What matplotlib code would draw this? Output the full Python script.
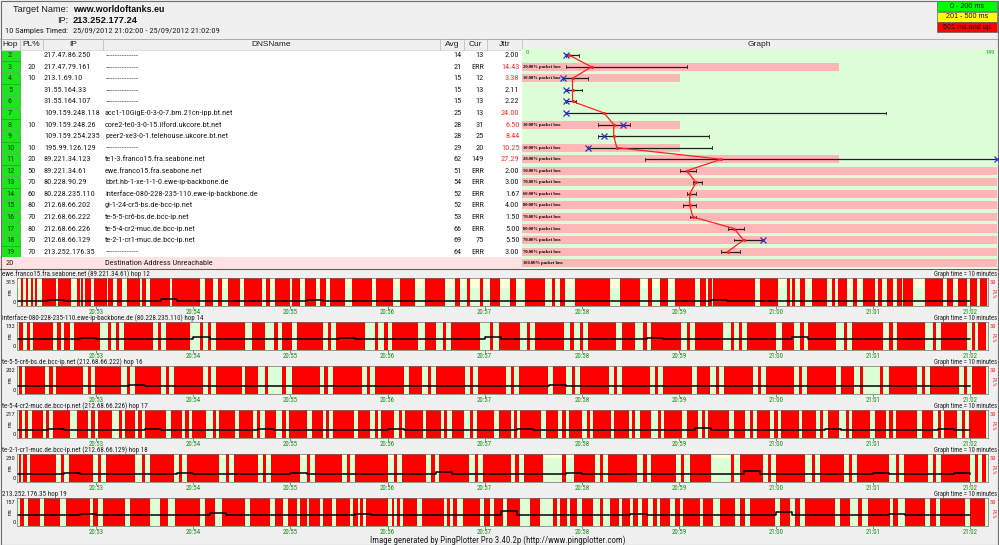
import matplotlib
matplotlib.use("Agg")
import matplotlib.pyplot as plt
from matplotlib import font_manager

W, H = 999, 545

# ---------------- data ----------------
target_name = "www.worldoftanks.eu"
target_ip = "213.252.177.24"
samples_text = "10 Samples Timed:"
time_span = "25/09/2012 21:02:00 - 25/09/2012 21:02:09"

columns = ["Hop", "PL%", "IP", "DNSName", "Avg", "Cur", "Jttr", "Graph"]
hops = list(range(2, 21))
pl = [0, 20, 10, 0, 0, 0, 10, 0, 10, 20, 50, 70, 60, 80, 70, 80, 70, 70, 100]
ips = ["217.47.86.250", "217.47.79.161", "213.1.69.10", "31.55.164.33", "31.55.164.107",
       "109.159.248.118", "109.159.248.26", "109.159.254.235", "195.99.126.129",
       "89.221.34.123", "89.221.34.61", "80.228.90.29", "80.228.235.110",
       "212.68.66.202", "212.68.66.222", "212.68.66.226", "212.68.66.129",
       "213.252.176.35", ""]
dns = ["--------------", "--------------", "--------------", "--------------", "--------------",
       "acc1-10GigE-0-3-0-7.bm.21cn-ipp.bt.net", "core2-te0-3-0-15.ilford.ukcore.bt.net",
       "peer2-xe3-0-1.telehouse.ukcore.bt.net", "--------------",
       "te1-3.franco15.fra.seabone.net", "ewe.franco15.fra.seabone.net",
       "bbrt.hb-1-xe-1-1-0.ewe-ip-backbone.de", "interface-080-228-235-110.ewe-ip-backbone.de",
       "gi-1-24-cr5-bs.de-bcc-ip.net", "te-5-5-cr6-bs.de.bcc-ip.net",
       "te-5-4-cr2-muc.de.bcc-ip.net", "te-2-1-cr1-muc.de.bcc-ip.net",
       "--------------", "Destination Address Unreachable"]
avg = [14, 21, 15, 15, 15, 25, 28, 28, 29, 62, 51, 54, 52, 52, 53, 66, 69, 64, None]
cur = [13, None, 12, 13, 13, 13, 31, 25, 20, 149, None, None, None, None, None, None, 75, None, None]
jitter = [2.00, 14.43, 3.38, 2.11, 2.22, 24.00, 6.50, 8.44, 10.25, 27.29,
          2.00, 3.00, 1.67, 4.00, 1.50, 5.00, 5.50, 3.00, None]
lat_min = [13, 13, 12, 13, 13, 13, 23, 23, 20, 38, 49, 53, 51, 50, 52, 64, 66, 62, None]
lat_max = [17, 51, 20, 18, 16, 114, 33, 58, 59, 149, 54, 56, 54, 54, 54, 69, 75, 68, None]
graph_max = 149
loss_scale = 30

legend_labels = ["0 - 200 ms", "201 - 500 ms", "501 ms and up"]
legend_colors = ["#00ff00", "#ffff00", "#ff0000"]

strip_titles = ["ewe.franco15.fra.seabone.net (89.221.34.61) hop 12",
                "interface-080-228-235-110.ewe-ip-backbone.de (80.228.235.110) hop 14",
                "te-5-5-cr6-bs.de.bcc-ip.net (212.68.66.222) hop 16",
                "te-5-4-cr2-muc.de.bcc-ip.net (212.68.66.226) hop 17",
                "te-2-1-cr1-muc.de.bcc-ip.net (212.68.66.129) hop 18",
                "213.252.176.35 hop 19"]
strip_ymax = [315, 132, 202, 217, 230, 157]
tick_labels = ["20:53", "20:54", "20:55", "20:56", "20:57", "20:58", "20:59", "21:00", "21:01", "21:02"]
tick_secs = [60, 120, 180, 240, 300, 360, 420, 480, 540, 600]   # seconds after 20:52:00
t_start, t_end = 11, 611

# packet-loss intervals (seconds after 20:52:00)
loss_hop12 = [(13.5, 14.7), (16.6, 17.8), (19.7, 20.9), (22.1, 23.4), (26.5, 35.1), (36.3, 44.4),
              (48.1, 50), (50.6, 51.8), (53, 56.7), (58.6, 66.6), (67.2, 70.3), (72.8, 75.9),
              (79, 87), (88.3, 90.7), (93.2, 105.6), (106.8, 124.1), (127.2, 132.1), (135.2, 137.7),
              (141.4, 148.8), (151.3, 162.4), (164.9, 167.4), (170.5, 179.7), (181, 185.9),
              (189, 195.8), (198.3, 202), (204.4, 213.7), (218, 230.4), (232.9, 243.4),
              (247.7, 257), (263.2, 275.5), (281.7, 284.8), (289.1, 291), (297.1, 299),
              (303.3, 309.5), (315.7, 319.4), (325, 337.3), (341.6, 343.5), (346.6, 349.7),
              (355.9, 377.5), (383.7, 396), (401, 403.4), (408.4, 413.3), (417.7, 430),
              (433.1, 436.8), (438, 440.5), (441.1, 467.1), (470.2, 481.3), (486.9, 488.7),
              (490, 491.8), (494.9, 498), (502.3, 511.6), (514.7, 516.5), (518.4, 524),
              (527.7, 530.1), (533.8, 541.3), (543.1, 545.6), (548.7, 552.4), (554.9, 558),
              (558.6, 564.7), (572.2, 583.3), (585.7, 589.5), (592.5, 598.1), (600, 604.3),
              (606.1, 610.5)]
loss_hop14 = [(12, 15), (17, 19), (21, 33), (36, 38), (40, 44), (46, 62), (67, 69), (72, 74),
              (77, 95), (98, 100), (103, 118), (124, 126), (129, 131), (134, 152), (156, 164),
              (170, 172), (175, 181), (184, 200), (203, 205), (208, 226), (232, 234), (238, 240),
              (243, 259), (263, 270), (274, 276), (279, 297), (303, 305), (309, 322), (326, 328),
              (331, 349), (353, 355), (359, 361), (364, 381), (385, 393), (398, 400), (403, 421),
              (425, 427), (430, 447), (452, 454), (457, 459), (462, 480), (484, 491), (495, 497),
              (500, 517), (522, 524), (527, 546), (550, 552), (555, 572), (577, 579), (582, 598),
              (601, 603), (605, 610)]
loss_hop16 = [(12, 14), (16, 28), (31, 33), (35, 52), (55, 57), (59, 75), (79, 81), (84, 100),
              (103, 105), (108, 126), (129, 131), (134, 150), (152, 160), (164, 166), (175, 177),
              (181, 198), (201, 203), (206, 224), (227, 229), (232, 250), (253, 261), (265, 267),
              (270, 288), (291, 293), (296, 313), (316, 318), (321, 339), (342, 350), (354, 356),
              (359, 377), (380, 382), (385, 402), (405, 407), (410, 428), (431, 439), (443, 445),
              (448, 466), (469, 471), (474, 491), (494, 496), (499, 517), (520, 528), (532, 534),
              (544, 546), (550, 567), (570, 572), (575, 593), (596, 598), (601, 610)]
loss_hop17 = [(12, 14), (16, 18), (20, 27), (29, 31), (33, 44), (48, 55), (57, 59), (61, 70),
              (74, 76), (78, 84), (86, 88), (90, 103), (106, 113), (115, 117), (119, 128),
              (132, 134), (136, 146), (148, 157), (159, 161), (164, 171), (175, 177), (179, 190),
              (193, 200), (202, 204), (206, 219), (222, 229), (232, 234), (236, 244), (247, 249),
              (251, 262), (264, 273), (275, 277), (280, 287), (291, 293), (295, 306), (309, 316),
              (318, 320), (322, 335), (338, 345), (348, 350), (352, 360), (363, 365), (367, 378),
              (380, 389), (391, 393), (396, 403), (407, 409), (411, 422), (425, 432), (434, 436),
              (438, 451), (454, 461), (464, 466), (468, 476), (479, 481), (483, 494), (496, 505),
              (507, 509), (512, 519), (523, 525), (527, 538), (541, 548), (550, 552), (554, 567),
              (570, 577), (580, 582), (584, 592), (595, 597), (599, 610)]
loss_hop18 = [(12, 13.5), (15, 17), (19, 35), (38, 40), (43, 58), (61, 63), (66, 84), (88, 90),
              (93, 108), (111, 113), (116, 136), (140, 142), (145, 160), (163, 165), (168, 186),
              (190, 192), (195, 212), (215, 217), (220, 240), (244, 246), (249, 264), (267, 269),
              (272, 290), (294, 296), (299, 316), (319, 321), (324, 336), (348, 350), (355, 368),
              (371, 373), (376, 394), (398, 400), (403, 418), (421, 423), (427, 440), (452, 454),
              (458, 472), (475, 477), (480, 498), (502, 504), (507, 522), (525, 527), (530, 550),
              (554, 556), (559, 574), (577, 579), (582, 600), (603, 605), (607, 610)]
loss_hop19 = [(12.9, 15.3), (17.8, 25.2), (27.7, 37.6), (41.3, 56.1), (58, 61.1), (64.2, 77.8),
              (80.8, 93.2), (99.4, 104.3), (108.7, 124.1), (127.2, 133.4), (137.7, 151.9),
              (155, 167.4), (170.5, 175.4), (178.5, 184), (185.9, 190.2), (191.5, 198.3),
              (200.1, 205.7), (208.1, 216.8), (218.7, 221.7), (223, 224.8), (226.7, 240.3),
              (242.8, 244), (245.8, 247.7), (249.6, 258.2), (261.3, 274.9), (276.7, 278.6),
              (280.5, 282.9), (286.6, 297.1), (299.6, 303.3), (305.8, 311.4), (313.8, 321.9),
              (328, 334.2), (342.3, 344.7), (346.6, 350.9), (352.8, 357.1), (360.2, 367),
              (371.3, 373.2), (377.5, 383), (384.9, 389.8), (391.7, 394.8), (397.3, 401),
              (404.1, 406.5), (408.4, 414.6), (417.7, 420.7), (422.6, 433.1), (435, 441.1),
              (445.5, 454.7), (457.8, 460.9), (464, 479.5), (482.5, 488.7), (491.8, 494.9),
              (498, 516.5), (519.6, 525.8), (530.7, 533.2), (536.9, 550.5), (552.4, 555.5),
              (559.8, 572.2), (575.2, 578.9), (581.4, 596.9), (600, 609.2)]
strip_loss = [loss_hop12, loss_hop14, loss_hop16, loss_hop17, loss_hop18, loss_hop19]

# latency per 10 s block (61 blocks)
lat_hop12 = [48, 48, 52, 60, 48, 48, 48, 50, 48, 48, 70, 48, 48, 48, 52, 48, 48, 48, 48, 60,
             48, 48, 48, 48, 50, 48, 48, 48, 55, 48, 48, 48, 48, 48, 52, 48, 48, 48, 48, 48,
             48, 52, 48, 48, 60, 48, 48, 48, 48, 48, 50, 48, 48, 48, 48, 52, 48, 48, 48, 48, 48]
lat_hop14 = [50, 50, 52, 50, 50, 55, 50, 50, 50, 52, 50, 50, 62, 50, 50, 50, 52, 50, 50, 50,
             50, 55, 50, 50, 50, 50, 52, 50, 50, 50, 60, 50, 50, 50, 52, 50, 50, 50, 50, 50,
             55, 50, 50, 50, 52, 50, 50, 50, 50, 58, 50, 50, 50, 52, 50, 50, 50, 50, 50, 52, 50]
lat_hop16 = [52, 52, 52, 55, 52, 52, 52, 52, 60, 52, 52, 52, 52, 52, 55, 52, 52, 52, 52, 52,
             52, 58, 52, 52, 52, 52, 52, 55, 52, 52, 52, 52, 52, 52, 60, 52, 52, 52, 52, 52,
             52, 52, 55, 52, 52, 52, 52, 52, 52, 52, 58, 52, 52, 52, 52, 52, 55, 52, 52, 52, 52]
lat_hop17 = [62, 62, 62, 65, 62, 62, 62, 62, 62, 70, 62, 62, 62, 62, 62, 62, 65, 62, 62, 62,
             62, 62, 62, 62, 68, 62, 62, 62, 62, 62, 62, 62, 65, 62, 62, 62, 62, 62, 62, 62,
             62, 62, 62, 75, 62, 62, 62, 62, 62, 62, 62, 65, 62, 62, 62, 62, 62, 62, 68, 62, 62]
lat_hop18 = [66, 66, 66, 66, 70, 66, 66, 66, 66, 66, 66, 75, 66, 66, 66, 66, 66, 66, 70, 66,
             66, 66, 66, 66, 66, 66, 66, 80, 66, 66, 66, 66, 66, 66, 66, 70, 66, 66, 66, 66,
             66, 66, 66, 66, 66, 66, 90, 66, 66, 66, 66, 66, 66, 66, 70, 66, 66, 66, 66, 75, 66]
lat_hop19 = [62, 62, 62, 62, 62, 66, 62, 62, 62, 62, 62, 62, 62, 70, 62, 62, 62, 62, 62, 62,
             62, 62, 66, 62, 62, 62, 62, 62, 62, 62, 62, 80, 62, 62, 62, 62, 62, 62, 62, 66,
             62, 62, 62, 62, 62, 62, 62, 62, 75, 62, 62, 62, 62, 62, 62, 66, 62, 62, 62, 62, 62]
strip_latency = [lat_hop12, lat_hop14, lat_hop16, lat_hop17, lat_hop18, lat_hop19]

footer = "Image generated by PingPlotter Pro 3.40.2p (http://www.pingplotter.com)"

# ---------------- fonts ----------------
avail = {f.name for f in font_manager.fontManager.ttflist}
narrow_choices = [("Liberation Sans Narrow", 1.0), ("DejaVu Sans Condensed", 0.82),
                  ("Roboto Condensed", 0.9), ("Liberation Sans", 0.82)]
NARROW, NSC = "DejaVu Sans", 0.72
for name, sc in narrow_choices:
    if name in avail:
        NARROW, NSC = name, sc
        break
WIDE = "Liberation Sans" if "Liberation Sans" in avail else "DejaVu Sans"
SERIF = "Liberation Serif" if "Liberation Serif" in avail else "DejaVu Serif"

# ---------------- figure ----------------
fig = plt.figure(figsize=(W / 100, H / 100), dpi=100)
fig.patch.set_facecolor("#f0f0f0")


def pax(x0, y0, x1, y1, **kw):
    return fig.add_axes([x0 / W, 1 - y1 / H, (x1 - x0) / W, (y1 - y0) / H], **kw)


bg = pax(0, 0, W, H)
bg.set_xlim(0, W)
bg.set_ylim(H, 0)
bg.axis("off")

# header
bg.text(68, 9.5, "Target Name:", ha="right", va="center", fontsize=6.6, family=WIDE, color="#202020")
bg.text(73, 9.5, target_name, ha="left", va="center", fontsize=6.4, family=WIDE, weight="bold", color="#101010")
bg.text(68, 20.5, "IP:", ha="right", va="center", fontsize=6.6, family=WIDE, color="#202020")
bg.text(73, 20.5, target_ip, ha="left", va="center", fontsize=6.7, family=WIDE, weight="bold", color="#101010")
bg.text(68, 30.5, samples_text, ha="right", va="center", fontsize=6.7 * NSC, family=NARROW, color="#202020")
bg.text(73, 30.5, time_span, ha="left", va="center", fontsize=6.7 * NSC, family=NARROW, color="#202020")

# legend boxes
for i, (lab, col) in enumerate(zip(legend_labels, legend_colors)):
    y0 = 1 + i * 10.5
    bg.add_patch(plt.Rectangle((937, y0), 60, 10.3, facecolor=col, edgecolor="#606060", lw=0.5))
    bg.text(967, y0 + 5.3, lab, ha="center", va="center", fontsize=5.2, family=WIDE, color="#101010")

# table header
col_edges = [0, 20, 43, 103, 440, 464, 487, 522, 997]
bg.add_patch(plt.Rectangle((0, 38.5), 997, 11, facecolor="#f0f0f0", edgecolor="none"))
bg.plot([0, 997], [38.5, 38.5], color="#a0a0a0", lw=0.6)
bg.plot([0, 997], [49.5, 49.5], color="#d8d8d8", lw=0.6)
for xe in col_edges[1:-1]:
    bg.plot([xe, xe], [38.5, 49.5], color="#c0c0c0", lw=0.6)
for i, name in enumerate(columns):
    cx = (col_edges[i] + col_edges[i + 1]) / 2
    bg.text(cx, 44.2, name, ha="center", va="center", fontsize=6.0, family=WIDE, color="#202020")

# table rows
row_top, row_h = 49.5, 11.55
n_rows = len(hops)
table_bottom = row_top + n_rows * row_h
bg.add_patch(plt.Rectangle((0, row_top), 522, table_bottom - row_top, facecolor="white", edgecolor="none"))
fs_row = 6.6 * NSC
for i, hop in enumerate(hops):
    yc = row_top + (i + 0.5) * row_h
    unreachable = pl[i] >= 100
    if unreachable:
        bg.add_patch(plt.Rectangle((0, yc - row_h / 2), 522, row_h, facecolor="#ffe2e2", edgecolor="none"))
        bg.text(10, yc, str(hop), ha="center", va="center", fontsize=fs_row, family=NARROW, color="#202020")
        bg.text(105, yc, dns[i], ha="left", va="center", fontsize=fs_row, family=NARROW, color="#202020")
        continue
    bg.add_patch(plt.Rectangle((0.5, yc - row_h / 2 + 0.3), 19.5, row_h - 0.6, facecolor="#1ee61e",
                               edgecolor="#10a010", lw=0.4))
    bg.text(10, yc, str(hop), ha="center", va="center", fontsize=fs_row, family=NARROW, color="#004000")
    if pl[i]:
        bg.text(36, yc, str(pl[i]), ha="right", va="center", fontsize=fs_row, family=NARROW, color="#202020")
    bg.text(44, yc, ips[i], ha="left", va="center", fontsize=fs_row, family=NARROW, color="#202020")
    if set(dns[i]) == {"-"}:
        bg.text(106, yc + 0.5, dns[i], ha="left", va="center", fontsize=5.2, family=WIDE, color="#404040")
    else:
        bg.text(105, yc, dns[i], ha="left", va="center", fontsize=fs_row, family=NARROW, color="#202020")
    bg.text(461.5, yc, str(avg[i]), ha="right", va="center", fontsize=fs_row, family=NARROW, color="#202020")
    bg.text(484, yc, "ERR" if cur[i] is None else str(cur[i]), ha="right", va="center",
            fontsize=fs_row, family=NARROW, color="#202020")
    jcol = "#ff3030" if jitter[i] > 0.2 * avg[i] else "#202020"
    bg.text(519.5, yc, f"{jitter[i]:.2f}", ha="right", va="center", fontsize=fs_row, family=NARROW, color=jcol)

bg.plot([0, 997], [table_bottom + 0.5, table_bottom + 0.5], color="#606060", lw=0.8)

# ---------------- graph column ----------------
gx = pax(522, row_top, 997, table_bottom)
px_per_ms = (997 - 525) / graph_max
gx.set_xlim(-3 / px_per_ms, graph_max)
gx.set_ylim(n_rows, 0)
gx.axis("off")
x0g = -3 / px_per_ms
full_w = graph_max - x0g
gx.add_patch(plt.Rectangle((x0g, 0), full_w, n_rows, facecolor="#dcffd8", edgecolor="none"))
for i in range(n_rows):
    if pl[i] > 0:
        w = min(pl[i], loss_scale) / loss_scale * full_w
        gx.barh(i + 0.5, w, left=x0g, height=0.7, color="#ffb6b6", edgecolor="none")
        gx.text(x0g + 0.3, i + 0.5, f"{pl[i]:.2f}% packet loss", ha="left", va="center",
                fontsize=3.3, family=SERIF, weight="bold", color="#000000")
rows_v = [i + 0.5 for i in range(n_rows) if avg[i] is not None]
gx.hlines(rows_v, [lat_min[i] for i in range(n_rows) if avg[i] is not None],
          [lat_max[i] for i in range(n_rows) if avg[i] is not None], color="#202020", lw=0.9)
for i in range(n_rows):
    if avg[i] is None:
        continue
    for xv in (lat_min[i], lat_max[i]):
        gx.plot([xv, xv], [i + 0.38, i + 0.62], color="#202020", lw=0.6)
gx.plot([avg[i] for i in range(n_rows) if avg[i] is not None], rows_v, color="#ff2020", lw=0.9,
        marker="o", markersize=2.2, markerfacecolor="#ff2020", markeredgewidth=0)
cx_ = [(cur[i], i + 0.5) for i in range(n_rows) if cur[i] is not None]
gx.plot([c[0] for c in cx_], [c[1] for c in cx_], linestyle="none", marker="x", markersize=4,
        markeredgewidth=0.9, color="#3030d0", clip_on=False)
gx.text(x0g + 1.2, 0.25, "0", ha="left", va="center", fontsize=4.5, family=NARROW, color="#20a020")
gx.text(graph_max - 0.8, 0.25, str(graph_max), ha="right", va="center", fontsize=4.5, family=NARROW, color="#20a020")

# ---------------- strip charts ----------------
pitch = 44
for k in range(6):
    top = 278 + pitch * k
    bot = 305.5 + pitch * k
    bg.text(2, 274.5 + pitch * k, strip_titles[k], ha="left", va="center", fontsize=5.6 * NSC,
            family=NARROW, color="#202020")
    bg.text(997, 274.5 + pitch * k, "Graph time = 10 minutes", ha="right", va="center",
            fontsize=5.3 * NSC, family=NARROW, color="#202020")
    ax = pax(17, top, 988, bot)
    ymax = strip_ymax[k]
    ax.set_xlim(t_start, t_end)
    ax.set_ylim(0, ymax)
    ax.axhspan(0, min(200, ymax), color="#dcffd8", lw=0)
    if ymax > 200:
        ax.axhspan(200, ymax, color="#ffffdc", lw=0)
    ivs = strip_loss[k]
    ax.bar([a for a, b in ivs], [ymax] * len(ivs), width=[b - a for a, b in ivs], align="edge",
           color="#ff0000", lw=0)
    lat = strip_latency[k]
    ax.step([10 * n for n in range(len(lat))], lat, where="post", color="#000000", lw=1.1)
    ax.set_xticks(tick_secs)
    ax.set_xticklabels(tick_labels)
    ax.set_yticks([])
    ax.tick_params(axis="x", length=2, width=0.5, pad=0.5, labelsize=5.4 * NSC, colors="#606060")
    for lab in ax.get_xticklabels():
        lab.set_family(NARROW)
        lab.set_color("#109010")
    for sp in ax.spines.values():
        sp.set_color("#707070")
        sp.set_linewidth(0.5)
    bg.text(15.5, top + 4, str(ymax), ha="right", va="center", fontsize=5.2 * NSC, family=NARROW, color="#202020")
    bg.text(15.5, bot - 2.5, "0", ha="right", va="center", fontsize=5.2 * NSC, family=NARROW, color="#202020")
    bg.text(10, (top + bot) / 2, "ms", ha="center", va="center", rotation=90, fontsize=4.6 * NSC,
            family=NARROW, color="#202020")
    bg.text(990, top + 4.5, "30", ha="left", va="center", fontsize=5.2 * NSC, family=NARROW, color="#ff2020")
    bg.text(993.5, (top + bot) / 2 + 2, "PL%", ha="center", va="center", rotation=270, fontsize=4.6 * NSC,
            family=NARROW, color="#ff2020")

bg.text(498, 540.5, footer, ha="center", va="center", fontsize=7.0 * NSC, family=NARROW, color="#202020")
bg.add_patch(plt.Rectangle((0.5, 0.5), 997.5, 544, facecolor="none", edgecolor="#707070", lw=0.8))

fig.savefig("out.png", dpi=100, facecolor=fig.get_facecolor())
